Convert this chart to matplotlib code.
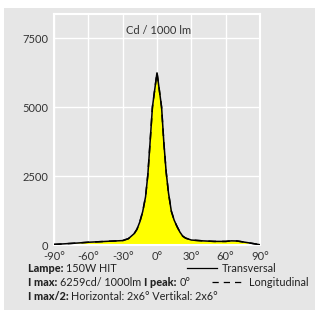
import matplotlib
matplotlib.use("Agg")
import matplotlib.pyplot as plt
from matplotlib.patches import Rectangle

plt.rcParams['font.family'] = ['Lato', 'DejaVu Sans']

angles = [-90, -80, -70, -60, -50, -40, -30, -25, -20, -17.5, -15, -12.5, -10, -8, -6, -4, 0,
          4, 6, 8, 10, 12.5, 15, 17.5, 20, 22.5, 25, 30, 40, 50, 60, 65, 70, 80, 90]
transversal = [20, 45, 70, 100, 120, 140, 160, 230, 410, 570, 840, 1210, 1750, 2550, 3750, 5000, 6259,
               5000, 3700, 2650, 1900, 1230, 900, 670, 470, 320, 250, 180, 150, 130, 130, 150, 145, 80, 10]
longitudinal = transversal
xticks = [-90, -60, -30, 0, 30, 60, 90]
xticklabels = ['-90°', '-60°', '-30°', '0°', '30°', '60°', '90°']
yticks = [0, 2500, 5000, 7500]

W, H = 315, 311
fig = plt.figure(figsize=(W / 100, H / 100), dpi=100)
fig.patch.set_facecolor('white')
bg = '#e6e6e6'
fig.patches.append(Rectangle((4 / W, 1 / H), (W - 4) / W, (310 - 8) / H,
                             transform=fig.transFigure, facecolor=bg,
                             edgecolor='none', zorder=-5))

def px(x, y):
    return x / W, 1 - y / H

ax = fig.add_axes([54 / W, (H - 245) / H, 206 / W, 231 / H])
ax.set_facecolor(bg)
ax.fill_between(angles, transversal, 0, color='#ffff00', zorder=2, linewidth=0)
ax.plot(angles, longitudinal, color='black', lw=1.1, ls=(0, (5, 4)), zorder=3,
        dash_joinstyle='miter')
ax.plot(angles, transversal, color='black', lw=1.1, zorder=4, solid_joinstyle='miter')
ax.set_xlim(-90, 90)
ax.set_ylim(0, 8380)
ax.set_xticks(xticks)
ax.set_xticklabels(xticklabels)
ax.set_yticks(yticks)
ax.grid(True, color='white', lw=1.0, zorder=1)
ax.set_axisbelow(True)
for s in ax.spines.values():
    s.set_color('white')
    s.set_linewidth(1.5)
ax.tick_params(length=0, labelsize=8, labelcolor='#333333', pad=4)
ax.text(0.51, 0.93, 'Cd / 1000 lm', transform=ax.transAxes, ha='center', va='center',
        fontsize=8, color='#333333')

fs = 7.8
c = '#222222'

renderer = fig.canvas.get_renderer()
def line_of_text(x, y, parts):
    xx, yy = px(x, y)
    cur = xx * W
    for txt, bold in parts:
        t = fig.text(cur / W, yy, txt, fontsize=fs, fontweight='black' if bold else 'normal',
                     color=c, va='center', ha='left')
        bb = t.get_window_extent(renderer=renderer)
        cur += bb.width

line_of_text(28, 268, [('Lampe: ', True), ('150W HIT', False)])
line_of_text(28, 282, [('I max: ', True), ('6259cd/ 1000lm ', False), ('I peak: ', True), ('0°', False)])
line_of_text(28, 296, [('I max/2: ', True), ('Horizontal: 2x6° Vertikal: 2x6°', False)])

fig.lines.append(plt.Line2D([187 / W, 217 / W], [1 - 268 / H] * 2, transform=fig.transFigure,
                            color='black', lw=0.9))
fig.text(222 / W, 1 - 268 / H, 'Transversal', fontsize=fs, color=c, va='center', ha='left')
fig.lines.append(plt.Line2D([212 / W, 244 / W], [1 - 282 / H] * 2, transform=fig.transFigure,
                            color='black', lw=0.9, ls=(0, (5, 4))))
fig.text(249 / W, 1 - 282 / H, 'Longitudinal', fontsize=fs, color=c, va='center', ha='left')

fig.savefig('out.png', dpi=100, facecolor=fig.get_facecolor())
